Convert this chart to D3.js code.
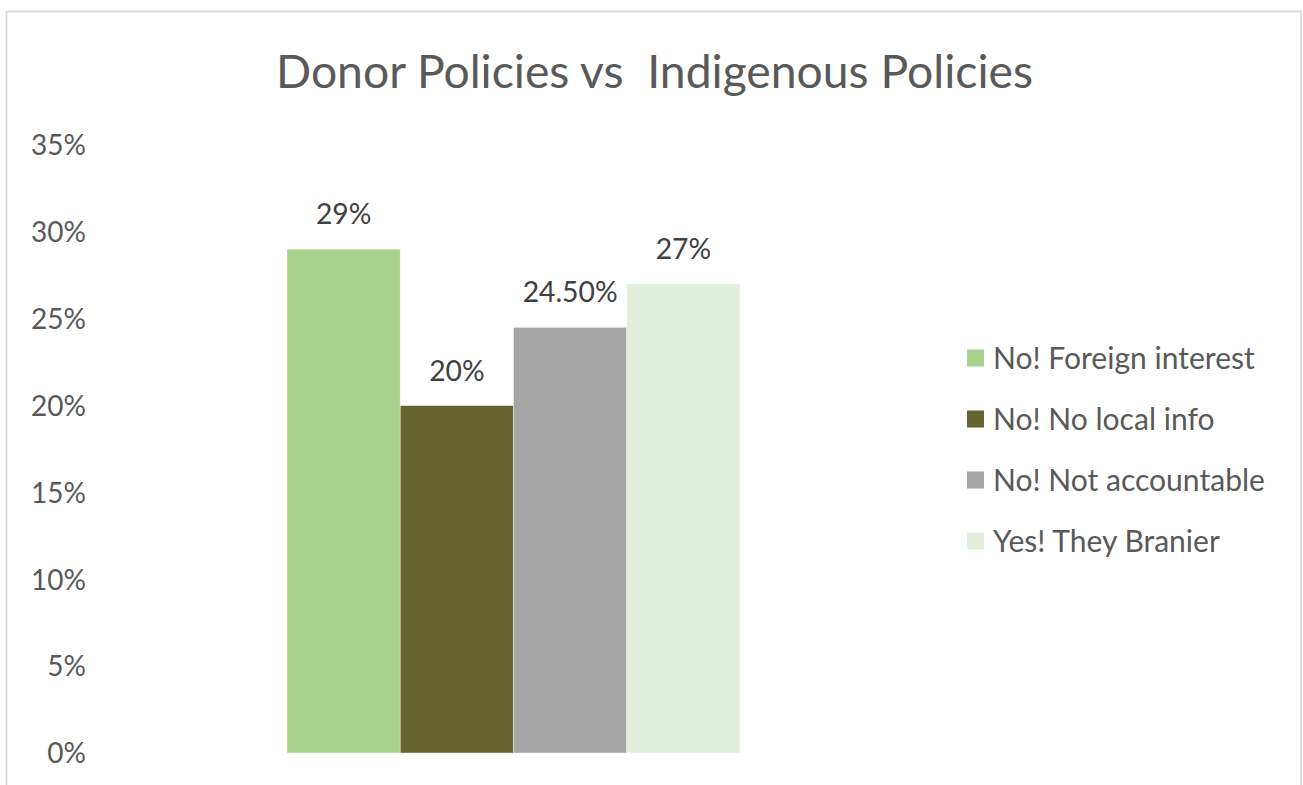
<!DOCTYPE html>
<html>
<head>
<meta charset="utf-8">
<script src="https://cdn.jsdelivr.net/npm/d3@7"></script>
<style>
  html, body { margin: 0; padding: 0; background: #fff; }
  svg { display: block; }
  text { font-family: Lato, "Open Sans", "Noto Sans", sans-serif; }
</style>
</head>
<body>
<svg id="chart" width="1303" height="785"></svg>
<script>
// Survey answers, one bar per response
const series = ["No! Foreign interest", "No! No local info", "No! Not accountable", "Yes! They Branier"];
const values = [0.29, 0.20, 0.245, 0.27];
const valueLabels = ["29%", "20%", "24.50%", "27%"];
const colors = ["#a9d18e", "#666532", "#a5a5a5", "#e2efda"];
const yTicks = [0, 0.05, 0.10, 0.15, 0.20, 0.25, 0.30, 0.35];
const title = "Donor Policies vs  Indigenous Policies";

const W = 1303, H = 785;
const svg = d3.select("#chart");

// Resize a text node so its rendered width equals the given width
function fitWidth(sel, width, base) {
  sel.style("font-size", base + "px");
  const len = sel.node().getComputedTextLength();
  const size = base * width / len;
  sel.style("font-size", size + "px");
  return size;
}

// chart frame
svg.append("rect")
  .attr("x", 6.5).attr("y", 11.5)
  .attr("width", 1294.5).attr("height", 800)
  .attr("fill", "#fff")
  .attr("stroke", "#d9d9d9").attr("stroke-width", 1.8);

// title (keeps its double space)
const t = svg.append("text")
  .attr("x", 654.5).attr("y", 88)
  .attr("text-anchor", "middle")
  .attr("fill", "#595959")
  .style("white-space", "pre")
  .text(title);
fitWidth(t, 757, 42);

// scales
const y = d3.scaleLinear().domain([0, 0.35]).range([753, 145]);
const x = d3.scaleBand().domain(series).range([287, 740]).padding(0);

// y axis labels (no axis line, no gridlines)
const yAxis = d3.axisLeft(y)
  .tickValues(yTicks)
  .tickFormat(d3.format(".0%"))
  .tickSize(0)
  .tickPadding(0);
const ga = svg.append("g").attr("transform", "translate(86,0)").call(yAxis);
ga.select(".domain").remove();
const tickTexts = ga.selectAll("text")
  .attr("fill", "#595959")
  .attr("font-family", null)
  .attr("dy", "0.35em");
let tickSize = 24;
ga.selectAll("text").each(function(d) {
  if (d === 0.35) tickSize = fitWidth(d3.select(this), 55, 24);
});
tickTexts.style("font-size", tickSize + "px");

// bars
svg.append("g").selectAll("rect")
  .data(series)
  .join("rect")
  .attr("x", d => x(d))
  .attr("width", x.bandwidth())
  .attr("y", (d, i) => y(values[i]))
  .attr("height", (d, i) => y(0) - y(values[i]))
  .attr("fill", (d, i) => colors[i])
  .attr("stroke", "#ffffff")
  .attr("stroke-opacity", 0.5)
  .attr("stroke-width", 0.75);

// value labels above bars
const labels = svg.append("g").selectAll("text")
  .data(series)
  .join("text")
  .attr("x", d => x(d) + x.bandwidth() / 2)
  .attr("y", (d, i) => y(values[i]) - 25)
  .attr("text-anchor", "middle")
  .attr("fill", "#404040")
  .text((d, i) => valueLabels[i]);
const labelSize = fitWidth(labels.filter((d, i) => i === 2), 95, 24);
labels.style("font-size", labelSize + "px");

// legend
const legend = svg.append("g").attr("transform", "translate(967,0)");
const rowY = d3.scalePoint().domain(series).range([358, 541]);
const rows = legend.selectAll("g")
  .data(series)
  .join("g")
  .attr("transform", d => `translate(0,${rowY(d)})`);
rows.append("rect")
  .attr("x", 0).attr("y", -8.5)
  .attr("width", 17).attr("height", 17)
  .attr("fill", (d, i) => colors[i]);
const legTexts = rows.append("text")
  .attr("x", 26).attr("y", 0)
  .attr("dy", "0.35em")
  .attr("fill", "#595959")
  .text(d => d);
const legSize = fitWidth(legTexts.filter((d, i) => i === 2), 272, 26);
legTexts.style("font-size", legSize + "px");
</script>
</body>
</html>
